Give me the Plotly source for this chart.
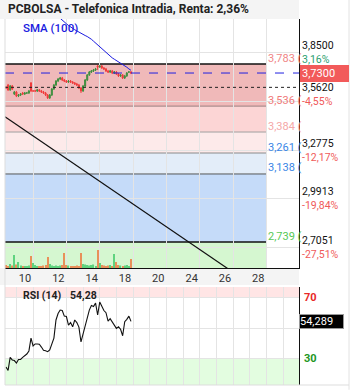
import plotly.graph_objects as go

# ---------------- data ----------------
title_text = "PCBOLSA - Telefonica Intradia, Renta: 2,36%"
x_tick_labels = ["10", "12", "14", "18", "20", "24", "26", "28"]

opens = [3.648, 3.660, 3.631, 3.654, 3.607, 3.619, 3.595, 3.601, 3.613, 3.607,
         3.613, 3.613, 3.672, 3.625, 3.625, 3.625, 3.631, 3.625, 3.619, 3.613,
         3.601, 3.584, 3.601, 3.636, 3.660, 3.683, 3.695, 3.701, 3.689, 3.683,
         3.677, 3.683, 3.677, 3.672, 3.666, 3.660, 3.642, 3.625, 3.654, 3.689,
         3.719, 3.736, 3.742, 3.748, 3.771, 3.765, 3.771, 3.760, 3.754, 3.742,
         3.736, 3.742, 3.730, 3.736, 3.724, 3.713, 3.719, 3.701, 3.713, 3.736,
         3.736]
highs = [3.654, 3.666, 3.660, 3.660, 3.625, 3.625, 3.607, 3.613, 3.619, 3.619,
         3.619, 3.631, 3.677, 3.631, 3.631, 3.636, 3.636, 3.631, 3.625, 3.619,
         3.607, 3.607, 3.642, 3.666, 3.689, 3.701, 3.707, 3.707, 3.695, 3.689,
         3.689, 3.689, 3.683, 3.677, 3.672, 3.666, 3.648, 3.660, 3.695, 3.724,
         3.742, 3.748, 3.754, 3.760, 3.777, 3.777, 3.777, 3.765, 3.760, 3.748,
         3.748, 3.748, 3.742, 3.742, 3.730, 3.724, 3.724, 3.719, 3.736, 3.742,
         3.742]
lows = [3.636, 3.625, 3.625, 3.631, 3.601, 3.589, 3.589, 3.595, 3.601, 3.601,
        3.607, 3.607, 3.619, 3.619, 3.619, 3.619, 3.619, 3.613, 3.607, 3.595,
        3.578, 3.578, 3.595, 3.631, 3.654, 3.677, 3.689, 3.683, 3.677, 3.672,
        3.672, 3.672, 3.666, 3.660, 3.654, 3.636, 3.613, 3.619, 3.648, 3.683,
        3.713, 3.730, 3.736, 3.742, 3.748, 3.760, 3.754, 3.748, 3.736, 3.730,
        3.730, 3.724, 3.724, 3.719, 3.707, 3.707, 3.695, 3.695, 3.707, 3.730,
        3.724]
closes = [3.642, 3.631, 3.654, 3.636, 3.619, 3.595, 3.601, 3.607, 3.607, 3.613,
          3.613, 3.625, 3.625, 3.625, 3.625, 3.631, 3.625, 3.619, 3.613, 3.601,
          3.584, 3.601, 3.636, 3.660, 3.683, 3.695, 3.701, 3.689, 3.683, 3.677,
          3.683, 3.677, 3.672, 3.666, 3.660, 3.642, 3.625, 3.654, 3.689, 3.719,
          3.736, 3.742, 3.748, 3.754, 3.765, 3.771, 3.760, 3.754, 3.742, 3.736,
          3.742, 3.730, 3.736, 3.724, 3.713, 3.719, 3.701, 3.713, 3.730, 3.736,
          3.730]
volumes = [30, 20, 40, 25, 130, 35, 60, 25, 20, 15,
           20, 25, 120, 50, 30, 20, 15, 20, 25, 30,
           110, 40, 25, 20, 25, 20, 25, 30, 150, 30,
           25, 20, 15, 20, 25, 20, 150, 40, 35, 30,
           25, 30, 35, 20, 180, 50, 30, 25, 20, 25,
           30, 20, 140, 60, 30, 25, 20, 25, 30, 20,
           90]
sma100 = [None] * 25 + [
    4.062, 4.050, 4.040, 4.029, 4.019, 4.009, 3.999, 3.992, 3.984, 3.977,
    3.969, 3.962, 3.956, 3.950, 3.944, 3.938, 3.928, 3.917, 3.906, 3.895,
    3.884, 3.872, 3.859, 3.846, 3.836, 3.827, 3.819, 3.811, 3.804, 3.796,
    3.789, 3.780, 3.772, 3.764, 3.754, 3.746]
rsi14 = [24.8, 22.6, 31.0, 29.4, 29.0, 27.4, 29.7, 29.7, 31.0, 32.3,
         33.2, 35.2, 43.5, 38.4, 39.7, 39.7, 39.5, 37.7, 35.6, 35.3,
         34.7, 35.9, 39.7, 43.5, 55.2, 59.4, 61.6, 61.3, 57.7, 57.4,
         51.9, 53.5, 50.8, 55.2, 53.5, 50.6, 41.0, 46.1, 50.6, 57.1,
         61.6, 64.5, 63.9, 66.1, 58.4, 66.8, 63.9, 61.3, 59.9, 54.5,
         56.1, 53.9, 51.9, 49.8, 50.8, 49.2, 45.0, 54.1, 55.6, 57.7,
         54.289]

last_price = 3.730
dotted_level = 3.646
levels = [3.783, 3.536, 3.384, 3.261, 3.138, 2.739]
level_label_colors = ["#f08686", "#f07a7a", "#f5a8a8", "#3a86e6", "#3a86e6", "#56c856"]
level_line_colors = ["#111111", "#9a7f7f", "#a0a0a0", "#8a8a8a", "#555555", "#111111"]
band_colors = ["#f0b9b9", "#fcd5d5", "#fdeaea", "#e3edf9", "#c5dbf9", "#d5f7d0"]
axis_prices = [3.8500, 3.5620, 3.2775, 2.9913, 2.7051]
axis_pcts = ["3,16%", "-4,55%", "-12,17%", "-19,84%", "-27,51%"]
trend_x = [-0.5, 140.7]
trend_y = [3.473, 2.298]
rsi_last = 54.289
rsi_header = "54,28"

# ---------------- geometry helpers ----------------
bars = list(range(len(closes)))
X_RANGE = [-0.48, 140.66]
Y_RANGE = [2.5865, 4.0469]
RSI_RANGE = [13.2, 76.5]
MAIN_DOM = [0.31967, 1.0]
RSI_DOM = [0.0, 0.26776]
label_pos = [9.12 + 16 * k for k in range(len(x_tick_labels))]
main_grid = [13.12 + 16 * k for k in range(8)]
rsi_grid = [5.12 + 8 * k for k in range(17)]
band_end = (266 - 5) / 294.0
FONT = "Roboto, Arial, sans-serif"


def fmt(v, d):
    return f"{v:.{d}f}".replace(".", ",")


fig = go.Figure()

up_col = "#3f8f3f"
dn_col = "#f03c3c"
vol_colors = ["#5fd37f" if c >= o else "#e8905a" for o, c in zip(opens, closes)]

fig.add_trace(go.Bar(x=bars, y=volumes, marker=dict(color=vol_colors, line=dict(width=0)),
                     width=0.55, xaxis="x", yaxis="y3", hoverinfo="skip"))
fig.add_trace(go.Candlestick(x=bars, open=opens, high=highs, low=lows, close=closes,
                             increasing=dict(line=dict(color=up_col, width=1), fillcolor=up_col),
                             decreasing=dict(line=dict(color=dn_col, width=1), fillcolor=dn_col),
                             whiskerwidth=0, xaxis="x", yaxis="y"))
fig.add_trace(go.Scatter(x=bars, y=sma100, mode="lines", line=dict(color="#1a1ae0", width=1),
                         xaxis="x", yaxis="y"))
fig.add_trace(go.Scatter(x=trend_x, y=trend_y, mode="lines", line=dict(color="#111111", width=1.2),
                         xaxis="x", yaxis="y"))
fig.add_trace(go.Scatter(x=bars, y=rsi14, mode="lines", line=dict(color="#111111", width=1.1),
                         xaxis="x2", yaxis="y2"))

shapes = []
edges = levels + [Y_RANGE[0]]
for i, col in enumerate(band_colors):
    shapes.append(dict(type="rect", xref="paper", yref="y", x0=0, x1=band_end,
                       y0=edges[i + 1], y1=edges[i], fillcolor=col, line=dict(width=0), layer="below"))
for lv, lc in zip(levels, level_line_colors):
    shapes.append(dict(type="line", xref="paper", yref="y", x0=0, x1=band_end, y0=lv, y1=lv,
                       line=dict(color=lc, width=1.3 if lc == "#111111" else 1), layer="below"))
shapes.append(dict(type="rect", xref="paper", yref="y2", x0=0, x1=1, y0=70, y1=RSI_RANGE[1],
                   fillcolor="#ffe5e5", line=dict(width=0), layer="below"))
shapes.append(dict(type="rect", xref="paper", yref="y2", x0=0, x1=1, y0=RSI_RANGE[0], y1=30,
                   fillcolor="#e3fde0", line=dict(width=0), layer="below"))
shapes.append(dict(type="rect", xref="paper", yref="paper", x0=-5 / 294, x1=1, y0=1, y1=1.0519,
                   fillcolor="#f4f4f4", line=dict(width=0), layer="below"))
shapes.append(dict(type="rect", xref="paper", yref="paper", x0=-5 / 294, x1=1, y0=0.2732, y1=0.31967,
                   fillcolor="#f4f4f4", line=dict(width=0), layer="below"))
shapes.append(dict(type="line", xref="paper", yref="y", x0=0, x1=1, y0=last_price, y1=last_price,
                   line=dict(color="#2020e0", width=1, dash="dash")))
shapes.append(dict(type="line", xref="paper", yref="y", x0=0, x1=1, y0=dotted_level, y1=dotted_level,
                   line=dict(color="#222222", width=1, dash="dot")))
shapes.append(dict(type="line", xref="paper", yref="paper", x0=0, x1=0, y0=0, y1=1,
                   line=dict(color="#dddddd", width=1)))
shapes.append(dict(type="line", xref="paper", yref="paper", x0=344 / 294, x1=344 / 294, y0=-0.013, y1=1.052,
                   line=dict(color="#e2e2e2", width=1)))
shapes.append(dict(type="line", xref="paper", yref="paper", x0=0, x1=344 / 294, y0=0, y1=0,
                   line=dict(color="#dddddd", width=1)))

ann = []
ann.append(dict(text=title_text, xref="paper", yref="paper", x=1 / 294, y=1.026, xanchor="left",
                yanchor="middle", showarrow=False, font=dict(family=FONT, size=12, color="#222222", weight="bold")))
ann.append(dict(text="SMA (100)", xref="paper", yref="paper", x=16 / 294, y=(385 - 28) / 366, xanchor="left",
                yanchor="middle", showarrow=False, font=dict(family=FONT, size=11.5, color="#1a1ae0", weight=500)))
for lv, col in zip(levels, level_label_colors):
    ann.append(dict(text=fmt(lv, 3) + " (", xref="paper", yref="y", x=band_end, y=lv, yshift=6,
                    xanchor="left", yanchor="middle", showarrow=False,
                    font=dict(family=FONT, size=11, color=col)))
label_shift = [0, 7, 0, 0, 0]
for p, pc, sh in zip(axis_prices, axis_pcts, label_shift):
    pc_col = "#2aa070" if not pc.startswith("-") else "#f05a5a"
    txt = f"<span style='color:#111111'>{fmt(p, 4)}</span><br><span style='color:{pc_col}'>{pc}</span>"
    ann.append(dict(text=txt, xref="paper", yref="y", x=1 + 2 / 294, y=p, yshift=sh,
                    xanchor="left", yanchor="middle", showarrow=False, align="left", borderpad=0,
                    font=dict(family=FONT, size=10.5, color="#111111")))
ann.append(dict(text=fmt(last_price, 4), xref="paper", yref="y", x=1 + 1 / 294, y=last_price,
                xanchor="left", yanchor="middle", showarrow=False, bgcolor="#f25a5a", bordercolor="#f25a5a",
                borderpad=1, width=45, align="left", font=dict(family=FONT, size=11, color="white")))
ann.append(dict(text="70", xref="paper", yref="y2", x=1 + 3 / 294, y=70, xanchor="left", yanchor="middle",
                showarrow=False, font=dict(family=FONT, size=11, color="#e82828", weight="bold")))
ann.append(dict(text="30", xref="paper", yref="y2", x=1 + 3 / 294, y=30, xanchor="left", yanchor="middle",
                showarrow=False, font=dict(family=FONT, size=11, color="#1e961e", weight="bold")))
ann.append(dict(text=fmt(rsi_last, 3), xref="paper", yref="y2", x=1, y=rsi_last, xanchor="left",
                yanchor="middle", showarrow=False, bgcolor="#000000", bordercolor="#999999", borderwidth=1,
                borderpad=0, width=43, align="left", font=dict(family=FONT, size=11, color="white")))
ann.append(dict(text="RSI (14)", xref="paper", yref="paper", x=16 / 294, y=(385 - 295) / 366, xanchor="left",
                yanchor="middle", showarrow=False, font=dict(family=FONT, size=10.5, color="#222222", weight="bold")))
ann.append(dict(text=rsi_header, xref="paper", yref="paper", x=63 / 294, y=(385 - 295) / 366,
                xanchor="left", yanchor="middle", showarrow=False,
                font=dict(family=FONT, size=10.5, color="#222222", weight="bold")))

grid_col = "#e4e4e4"
fig.update_layout(
    width=353, height=390,
    margin=dict(l=5, r=54, t=19, b=5),
    paper_bgcolor="white", plot_bgcolor="white",
    showlegend=False,
    shapes=shapes, annotations=ann,
    xaxis=dict(domain=[0, 1], range=X_RANGE, anchor="y", tickmode="array", tickvals=label_pos,
               ticktext=x_tick_labels, showgrid=False, zeroline=False, showline=True, linecolor="#111111",
               linewidth=1.2, ticks="", tickfont=dict(family=FONT, size=11, color="#333333"),
               rangeslider=dict(visible=False),
               minor=dict(tickmode="array", tickvals=main_grid, showgrid=True, gridcolor=grid_col, ticks="")),
    yaxis=dict(domain=MAIN_DOM, range=Y_RANGE, side="right", anchor="x", tickmode="array", tickvals=axis_prices,
               showticklabels=False, showgrid=True, gridcolor=grid_col, zeroline=False, showline=True,
               linecolor="#111111", linewidth=1.2, ticks=""),
    yaxis3=dict(overlaying="y", range=[0, 2490], visible=False, anchor="x"),
    xaxis2=dict(domain=[0, 1], range=X_RANGE, anchor="y2", showticklabels=False, showgrid=False, zeroline=False,
                ticks="", minor=dict(tickmode="array", tickvals=rsi_grid, showgrid=True, gridcolor=grid_col,
                                     ticks="")),
    yaxis2=dict(domain=RSI_DOM, range=RSI_RANGE, side="right", anchor="x2", tickmode="array", tickvals=[30, 50, 70],
                showticklabels=False, showgrid=True, gridcolor=grid_col, zeroline=False, showline=True,
                linecolor="#111111", linewidth=1.2, ticks=""),
)

fig.write_html("out.html")
